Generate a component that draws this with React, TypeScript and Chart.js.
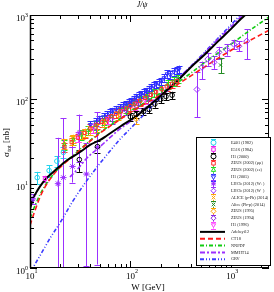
import React, { useEffect, useRef } from "react";
import { Chart, registerables } from "chart.js";
import { drawPoint } from "chart.js/helpers";
Chart.register(...registerables);

// ---------- theory curves ----------
const abdelW = [10, 10.7, 12, 13.4, 15, 18.5, 23.2, 31, 40, 50, 58, 80, 114, 170, 230, 305, 400, 550, 750, 1000, 1256, 1450];
const abdelS = [5.0, 6.6, 8.5, 10.3, 12, 15, 18.8, 23.4, 29, 33, 37, 48, 63, 93, 128, 173, 240, 340, 490, 680, 895, 1050];

const ct18W = [10, 11, 12.5, 14, 15.8, 19.8, 26.7, 35, 49, 77.6, 120, 180, 255, 400, 600, 1000, 1500, 2400];
const ct18S = [3.2, 4.5, 6.8, 9, 11.3, 15.5, 21, 28, 39, 57, 80, 105, 135, 190, 260, 380, 490, 660];

const nnpdfW = [10, 11, 12.5, 14, 15.8, 19.8, 26.7, 35, 49, 77.6, 120, 180, 255, 400, 600, 1000, 1500, 2400];
const nnpdfS = [3.9, 5.2, 7.3, 9.3, 11.5, 15.8, 21.5, 28.5, 40, 58, 82, 110, 140, 205, 295, 450, 640, 950];

const mmhtW = [25, 30, 36.7, 49, 77.6, 100, 150, 200, 300, 384, 500, 700, 1000, 1200, 1400];
const mmhtS = [12, 15, 20, 27, 44, 55, 85, 115, 180, 235, 315, 480, 720, 900, 1080];

const grvW = [10, 10.7, 13, 16, 19.8, 26.7, 35, 49, 62, 77.6, 100, 150, 200, 305, 450, 600, 800, 1000, 1120, 1300];
const grvS = [0.85, 1.0, 1.5, 2.3, 3.4, 6.2, 10, 17, 24, 33, 45, 74, 105, 176, 285, 405, 580, 760, 880, 1050];

// ---------- data ----------
const e401W = [11.8, 15.5, 18.5, 21.5];
const e401S = [11.8, 14.3, 18.5, 23.5];
const e401E = [2.0, 2.2, 2.8, 3.5];

const e516W = [14.1];
const e516S = [11.4];
const e516E = [1.0];

const h1_2000W = [31, 47, 100, 114, 135, 154, 175, 200, 226, 260];
const h1_2000S = [19.3, 27.5, 62, 66, 72, 76, 88, 100, 108, 112];
const h1_2000E = [5.5, 4.5, 6, 6.5, 7, 7.5, 8.5, 9.5, 10, 11];

const zeusMuW = [22, 26, 30, 35, 40, 46, 52, 58, 65, 72, 80, 90, 100, 112, 125, 140, 160, 180, 205, 230, 260, 290];
const zeusMuS = [27, 31, 35, 40, 45, 50, 54, 58, 63, 68, 72, 78, 83, 89, 96, 104, 113, 122, 132, 142, 153, 165];
const zeusMuE = [3.2, 3.7, 4.2, 4.8, 5.4, 6, 6.5, 7, 7.5, 8, 8.6, 9.4, 10, 10.7, 11.5, 12.5, 13.5, 14.6, 15.8, 17, 18.4, 20];

const zeusEeW = [22, 27, 32, 38, 45, 55, 65, 78, 92, 108, 125, 145, 170, 200, 235, 270, 300];
const zeusEeS = [29, 33, 38, 43, 49, 56, 63, 71, 79, 88, 97, 108, 120, 134, 150, 163, 175];
const zeusEeE = [4, 4.5, 5, 5.5, 6.2, 7, 7.8, 8.7, 9.6, 10.5, 11.5, 12.8, 14, 15.5, 17.5, 19, 20];

const h1_2005W = [40, 45, 49, 54, 58, 62, 66, 72, 78, 85, 91, 97, 102, 108, 114, 121, 128, 136, 144, 152, 161, 170, 180, 191, 203, 217, 232, 250, 270, 290, 305];
const h1_2005S = [50, 54, 58, 62, 66, 69, 72, 76, 80, 84, 87, 92, 95, 100, 106, 110, 114, 120, 124, 131, 139, 145, 150, 157, 164, 180, 200, 195, 212, 222, 228];
const h1_2005E = [5, 5.4, 5.8, 6.2, 6.6, 6.9, 7.2, 7.6, 8, 8.4, 8.7, 9.2, 9.5, 10, 10.6, 11, 11.4, 12, 12.4, 13.1, 13.9, 14.5, 15, 15.7, 16.4, 18, 20, 19.5, 21, 22, 23];

const lhcbPlusW = [10.7, 19, 21.5, 26.5, 31, 36.5, 47];
const lhcbPlusS = [6.6, 10, 11.8, 16, 40, 13, 27];
const lhcbPlusLo = [5.8, 1.0, 1.0, 10.3, 18, 1.05, 1.1];
const lhcbPlusHi = [7.5, 35, 60, 27, 66, 30, 70];

const lhcbMinusW = [460, 516, 590, 680, 760, 910, 1070, 1200, 1440];
const lhcbMinusS = [131, 240, 300, 275, 360, 390, 450, 425, 490];
const lhcbMinusLo = [61, 172, 250, 230, 300, 330, 390, 370, 300];
const lhcbMinusHi = [209, 280, 350, 325, 420, 450, 510, 490, 680];

const alicePPbW = [22, 27, 33, 40, 46];
const alicePPbS = [30, 34, 38, 43, 46];
const alicePPbE = [4, 4, 4.5, 5, 5.5];

const alicePbPW = [790];
const alicePbPS = [255];
const alicePbPLo = [205];
const alicePbPHi = [310];

const zeus95W = [26, 35, 55, 75, 114];
const zeus95S = [33, 40, 53, 64, 58];
const zeus95E = [4, 4.5, 6, 7, 7];

const zeus94W = [45, 65, 90, 120, 150];
const zeus94S = [46, 58, 74, 88, 100];
const zeus94E = [6, 7, 8, 10, 11];

const h1_96W = [30, 42, 60, 80, 110, 140];
const h1_96S = [36, 45, 57, 69, 84, 97];
const h1_96E = [5, 5.5, 6.5, 7.5, 9, 10];

const yTickExps = [0, 1, 2, 3];
const xTickExps = [1, 2, 3];

const SERIF = '"Liberation Serif", "DejaVu Serif", serif';

const pts = (w: number[], s: number[]) => w.map((x, i) => ({ x, y: s[i] }));
const sym = (s: number[], e: number[]) => ({ lo: s.map((v, i) => v - e[i]), hi: s.map((v, i) => v + e[i]) });

function markerSet(label: string, w: number[], s: number[], lo: number[], hi: number[], color: string, style: string, rotation = 0, radius = 2.3, dot = false) {
  return {
    label,
    data: pts(w, s),
    showLine: false,
    borderColor: color,
    backgroundColor: "rgba(0,0,0,0)",
    pointStyle: style,
    pointRotation: rotation,
    pointRadius: radius,
    pointBorderWidth: 1,
    errLo: lo,
    errHi: hi,
    dot,
    kind: "marker",
  } as any;
}

function curveSet(label: string, w: number[], s: number[], color: string, dash: number[], width: number) {
  return {
    label,
    data: pts(w, s),
    showLine: true,
    borderColor: color,
    backgroundColor: color,
    borderDash: dash,
    borderWidth: width,
    pointRadius: 0,
    cubicInterpolationMode: "monotone",
    kind: "line",
  } as any;
}

const errorBarPlugin = {
  id: "errbars",
  beforeDatasetsDraw(chart: any) {
    const { ctx, chartArea, scales } = chart;
    ctx.save();
    ctx.beginPath();
    ctx.rect(chartArea.left, chartArea.top, chartArea.right - chartArea.left, chartArea.bottom - chartArea.top);
    ctx.clip();
    chart.data.datasets.forEach((ds: any) => {
      if (!ds.errLo) return;
      ctx.strokeStyle = ds.borderColor;
      ctx.lineWidth = 1;
      ds.data.forEach((p: any, i: number) => {
        const x = Math.round(scales.x.getPixelForValue(p.x)) + 0.5;
        const y1 = scales.y.getPixelForValue(Math.max(ds.errLo[i], 0.5));
        const y2 = scales.y.getPixelForValue(ds.errHi[i]);
        ctx.beginPath();
        ctx.moveTo(x, y1);
        ctx.lineTo(x, y2);
        ctx.moveTo(x - 3, Math.round(y1) + 0.5);
        ctx.lineTo(x + 3, Math.round(y1) + 0.5);
        ctx.moveTo(x - 3, Math.round(y2) + 0.5);
        ctx.lineTo(x + 3, Math.round(y2) + 0.5);
        ctx.stroke();
      });
    });
    ctx.restore();
  },
  afterDatasetsDraw(chart: any) {
    const { ctx, scales } = chart;
    ctx.save();
    chart.data.datasets.forEach((ds: any) => {
      if (!ds.dot) return;
      ctx.fillStyle = ds.borderColor;
      ds.data.forEach((p: any) => {
        ctx.beginPath();
        ctx.arc(scales.x.getPixelForValue(p.x), scales.y.getPixelForValue(p.y), 1.5, 0, Math.PI * 2);
        ctx.fill();
      });
    });
    ctx.restore();
  },
};

const axesPlugin = {
  id: "axesframe",
  afterDraw(chart: any) {
    const { ctx, chartArea, scales } = chart;
    const { left, right, top, bottom } = chartArea;
    ctx.save();
    ctx.strokeStyle = "#000";
    ctx.lineWidth = 1;
    ctx.beginPath();
    for (let d = 0; d <= 3; d++) {
      for (let m = 1; m <= 9; m++) {
        const v = m * Math.pow(10, d);
        if (v < 1 || v > 1000) continue;
        const py = Math.round(scales.y.getPixelForValue(v)) + 0.5;
        const len = m === 1 ? 7 : 4;
        ctx.moveTo(left, py);
        ctx.lineTo(left + len, py);
        ctx.moveTo(right, py);
        ctx.lineTo(right - len, py);
      }
    }
    for (let d = 1; d <= 3; d++) {
      for (let m = 1; m <= 9; m++) {
        const v = m * Math.pow(10, d);
        if (v < 10 || v > 2400) continue;
        const px = Math.round(scales.x.getPixelForValue(v)) + 0.5;
        const len = m === 1 ? 7 : 4;
        ctx.moveTo(px, bottom);
        ctx.lineTo(px, bottom - len);
        ctx.moveTo(px, top);
        ctx.lineTo(px, top + len);
      }
    }
    ctx.stroke();
    ctx.lineWidth = 1;
    ctx.strokeRect(Math.round(left) + 0.5, Math.round(top) + 0.5, Math.round(right - left) - 1, Math.round(bottom - top) - 1);
    ctx.lineWidth = 1.5;
    ctx.beginPath();
    ctx.moveTo(Math.round(left) + 0.5, top);
    ctx.lineTo(Math.round(left) + 0.5, bottom);
    ctx.stroke();

    ctx.fillStyle = "#000";
    yTickExps.forEach((e) => {
      const py = scales.y.getPixelForValue(Math.pow(10, e));
      ctx.font = `6px ${SERIF}`;
      ctx.textAlign = "right";
      ctx.textBaseline = "alphabetic";
      const exp = String(e);
      const ew = ctx.measureText(exp).width;
      ctx.fillText(exp, 28, py + 1.5);
      ctx.font = `9px ${SERIF}`;
      ctx.fillText("10", 28 - ew, py + 6);
    });
    xTickExps.forEach((e) => {
      const px = scales.x.getPixelForValue(Math.pow(10, e));
      ctx.font = `9px ${SERIF}`;
      const bw = ctx.measureText("10").width;
      ctx.font = `6px ${SERIF}`;
      const ew = ctx.measureText(String(e)).width;
      const start = px + 1.5 - (bw + ew) / 2;
      ctx.textAlign = "left";
      ctx.font = `9px ${SERIF}`;
      ctx.fillText("10", start, 278.5);
      ctx.font = `6px ${SERIF}`;
      ctx.fillText(String(e), start + bw, 273);
    });
    ctx.font = `9px ${SERIF}`;
    ctx.textAlign = "center";
    ctx.fillText("W [GeV]", 148, 289.5);
    ctx.save();
    ctx.translate(9, 157);
    ctx.rotate(-Math.PI / 2);
    ctx.textAlign = "left";
    ctx.font = `9px ${SERIF}`;
    ctx.fillText("σ", 0, 0);
    const sw = ctx.measureText("σ").width;
    ctx.font = `6px ${SERIF}`;
    ctx.fillText("tot", sw + 0.5, 2);
    const tw = ctx.measureText("tot").width;
    ctx.font = `9px ${SERIF}`;
    ctx.fillText(" [nb]", sw + 0.5 + tw, 0);
    ctx.restore();
    ctx.font = `italic 8px ${SERIF}`;
    ctx.textAlign = "center";
    ctx.fillText("J/ψ", 142, 7);
    ctx.restore();
  },
};

const legendPlugin = {
  id: "boxlegend",
  afterDraw(chart: any) {
    const { ctx } = chart;
    const x0 = 196, y0 = 137, x1 = 270, y1 = 265;
    ctx.save();
    ctx.fillStyle = "#fff";
    ctx.fillRect(x0, y0, x1 - x0, y1 - y0);
    ctx.strokeStyle = "#000";
    ctx.lineWidth = 1;
    ctx.strokeRect(x0 + 0.5, y0 + 0.5, x1 - x0, y1 - y0);
    const step = 6.86;
    chart.data.datasets.forEach((ds: any, i: number) => {
      const cy = 142.7 + i * step;
      if (ds.kind === "marker") {
        ctx.strokeStyle = ds.borderColor;
        ctx.lineWidth = 1;
        ctx.beginPath();
        ctx.moveTo(213.5, cy - 3.5);
        ctx.lineTo(213.5, cy + 3.5);
        ctx.moveTo(211, Math.round(cy - 3.5) + 0.5);
        ctx.lineTo(216, Math.round(cy - 3.5) + 0.5);
        ctx.moveTo(211, Math.round(cy + 3.5) + 0.5);
        ctx.lineTo(216, Math.round(cy + 3.5) + 0.5);
        ctx.stroke();
        ctx.fillStyle = "#fff";
        ctx.beginPath();
        ctx.arc(213.5, cy, 2.2, 0, Math.PI * 2);
        ctx.fill();
        ctx.fillStyle = "rgba(0,0,0,0)";
        drawPoint(ctx, { pointStyle: ds.pointStyle, rotation: ds.pointRotation, radius: 2.5, borderWidth: 1 } as any, 213.5, cy);
        if (ds.dot) {
          ctx.fillStyle = ds.borderColor;
          ctx.beginPath();
          ctx.arc(213.5, cy, 1.3, 0, Math.PI * 2);
          ctx.fill();
        }
      } else {
        ctx.strokeStyle = ds.borderColor;
        ctx.lineWidth = 2;
        ctx.setLineDash(ds.borderDash);
        ctx.beginPath();
        ctx.moveTo(200, cy);
        ctx.lineTo(225, cy);
        ctx.stroke();
        ctx.setLineDash([]);
      }
      ctx.fillStyle = "#222";
      ctx.font = `4.3px ${SERIF}`;
      ctx.textAlign = "left";
      ctx.textBaseline = "middle";
      ctx.fillText(ds.label, 231, cy);
    });
    ctx.restore();
  },
};

export default function App() {
  const ref = useRef<HTMLCanvasElement | null>(null);
  useEffect(() => {
    if (!ref.current) return;
    const e401 = sym(e401S, e401E);
    const e516 = sym(e516S, e516E);
    const h100 = sym(h1_2000S, h1_2000E);
    const zmu = sym(zeusMuS, zeusMuE);
    const zee = sym(zeusEeS, zeusEeE);
    const h105 = sym(h1_2005S, h1_2005E);
    const apb = sym(alicePPbS, alicePPbE);
    const z95 = sym(zeus95S, zeus95E);
    const z94 = sym(zeus94S, zeus94E);
    const h196 = sym(h1_96S, h1_96E);
    const datasets = [
      markerSet("E401 (1982)", e401W, e401S, e401.lo, e401.hi, "#22d3ee", "circle"),
      markerSet("E516 (1984)", e516W, e516S, e516.lo, e516.hi, "#ee22ee", "rect"),
      markerSet("H1 (2000)", h1_2000W, h1_2000S, h100.lo, h100.hi, "#000000", "circle"),
      markerSet("ZEUS (2002) (μμ)", zeusMuW, zeusMuS, zmu.lo, zmu.hi, "#ff3030", "rect"),
      markerSet("ZEUS (2002) (ee)", zeusEeW, zeusEeS, zee.lo, zee.hi, "#22dd22", "triangle"),
      markerSet("H1 (2005)", h1_2005W, h1_2005S, h105.lo, h105.hi, "#2f2fff", "triangle", 180),
      markerSet("LHCb (2012) (W₊)", lhcbPlusW, lhcbPlusS, lhcbPlusLo, lhcbPlusHi, "#9b30ff", "star", 0, 3.2, true),
      markerSet("LHCb (2012) (W₋)", lhcbMinusW, lhcbMinusS, lhcbMinusLo, lhcbMinusHi, "#9b30ff", "rectRot", 0, 3),
      markerSet("ALICE (p-Pb) (2014)", alicePPbW, alicePPbS, apb.lo, apb.hi, "#ffa500", "crossRot"),
      markerSet("Alice (Pb-p) (2014)", alicePbPW, alicePbPS, alicePbPLo, alicePbPHi, "#228b22", "crossRot"),
      markerSet("ZEUS (1995)", zeus95W, zeus95S, z95.lo, z95.hi, "#ffa500", "rectRot"),
      markerSet("ZEUS (1994)", zeus94W, zeus94S, z94.lo, z94.hi, "#8a2be2", "rectRot"),
      markerSet("H1 (1996)", h1_96W, h1_96S, h196.lo, h196.hi, "#ff44ff", "triangle", 180),
      curveSet("Adeluyi12", abdelW, abdelS, "#000000", [], 2),
      curveSet("CT18", ct18W, ct18S, "#ff1a1a", [5, 3], 1.6),
      curveSet("NNPDF", nnpdfW, nnpdfS, "#11cc11", [4, 2, 1, 2], 1.6),
      curveSet("MMHT14", mmhtW, mmhtS, "#9b30ff", [5, 2, 2, 2], 1.6),
      curveSet("GRV", grvW, grvS, "#3b3bff", [4, 2, 1, 2, 1, 2], 1.6),
    ];
    const chart = new Chart(ref.current, {
      type: "scatter",
      data: { datasets },
      options: {
        responsive: false,
        animation: false,
        devicePixelRatio: 1,
        layout: { padding: { left: 30, right: 3, top: 15, bottom: 24 } },
        plugins: { legend: { display: false }, tooltip: { enabled: false }, title: { display: false } },
        scales: {
          x: { type: "logarithmic", min: 10, max: 2400, display: false },
          y: { type: "logarithmic", min: 1, max: 1000, display: false },
        },
      } as any,
      plugins: [errorBarPlugin, axesPlugin, legendPlugin],
    });
    return () => chart.destroy();
  }, []);
  return (
    <div style={{ position: "fixed", left: 0, top: 0, width: 274, height: 292, background: "#fff" }}>
      <canvas ref={ref} width={274} height={292} style={{ display: "block", width: 274, height: 292 }} />
    </div>
  );
}
